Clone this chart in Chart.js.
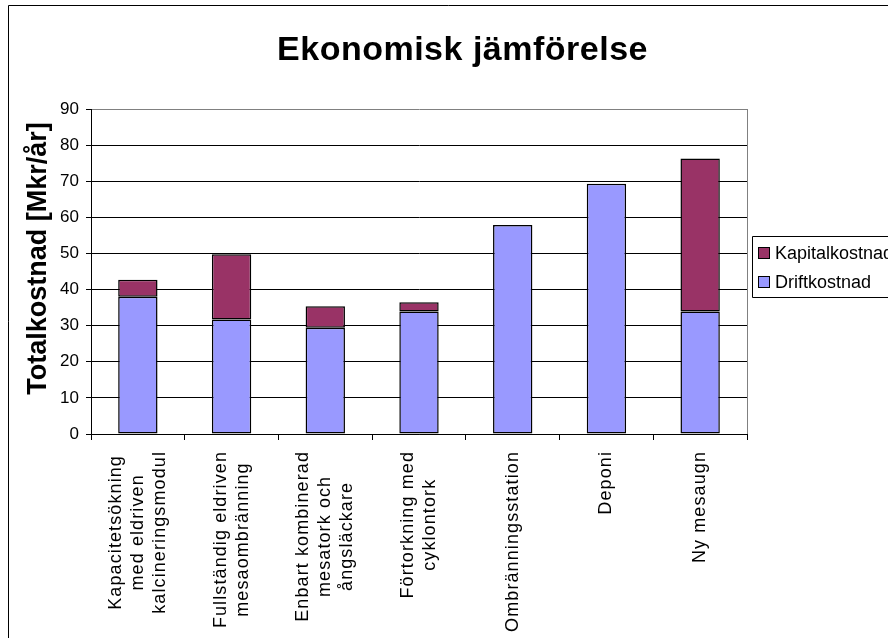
<!DOCTYPE html>
<html>
<head>
<meta charset="utf-8">
<script src="https://cdn.jsdelivr.net/npm/chart.js@4/dist/chart.umd.min.js"></script>
<style>
html,body{margin:0;padding:0;background:#fff;overflow:hidden}
#wrap{width:888px;height:638px;position:relative}
</style>
</head>
<body>
<div id="wrap"><canvas id="c" width="888" height="638"></canvas></div>
<script>
// ---- data ----
const categories = [
  ["Kapacitetsökning", "med eldriven", "kalcineringsmodul"],
  ["Fullständig eldriven", "mesaombränning"],
  ["Enbart kombinerad", "mesatork och", "ångsläckare"],
  ["Förtorkning med", "cyklontork"],
  ["Ombränningsstation"],
  ["Deponi"],
  ["Ny mesaugn"]
];
const driftkostnad   = [38.0, 31.7, 29.4, 33.9, 57.9, 69.3, 33.9];
const kapitalkostnad = [4.7, 18.1, 6.0, 2.6, 0, 0, 42.4];
const yTicks = [0, 10, 20, 30, 40, 50, 60, 70, 80, 90];
const chartTitle = "Ekonomisk jämförelse";
const yAxisTitle = "Totalkostnad [Mkr/år]";
const seriesNames = ["Driftkostnad", "Kapitalkostnad"];
const seriesColors = ["#9999FF", "#993366"];

const FONT = '"Liberation Sans", Arial, sans-serif';

const decor = {
  id: 'decor',
  beforeDraw(chart) {
    const ctx = chart.ctx;
    ctx.save();
    ctx.fillStyle = '#fff';
    ctx.fillRect(0, 0, chart.width, chart.height);
    ctx.strokeStyle = '#000';
    ctx.lineWidth = 1;
    ctx.beginPath();
    ctx.moveTo(8.5, chart.height);
    ctx.lineTo(8.5, 5.5);
    ctx.lineTo(chart.width, 5.5);
    ctx.stroke();
    ctx.restore();
  },
  afterDraw(chart) {
    const ctx = chart.ctx;
    const area = chart.chartArea;
    const xs = chart.scales.x;
    ctx.save();
    // right plot border (grey)
    ctx.strokeStyle = '#808080';
    ctx.lineWidth = 1;
    ctx.beginPath();
    ctx.moveTo(area.right + 0.5, area.top);
    ctx.lineTo(area.right + 0.5, area.bottom);
    ctx.stroke();

    // title
    ctx.fillStyle = '#000';
    ctx.font = 'bold 34px ' + FONT;
    try { ctx.letterSpacing = '0.5px'; } catch (e) {}
    ctx.textAlign = 'center';
    ctx.textBaseline = 'alphabetic';
    ctx.fillText(chartTitle, 462.5, 60);

    // y axis title
    try { ctx.letterSpacing = '0px'; } catch (e) {}
    ctx.save();
    ctx.font = 'bold 27px ' + FONT;
    ctx.translate(38.5, 258.5);
    ctx.rotate(-Math.PI / 2);
    ctx.textAlign = 'center';
    ctx.textBaseline = 'middle';
    ctx.fillText(yAxisTitle, 0, 0);
    ctx.restore();

    // x category labels (rotated, lines centred)
    ctx.font = '18px ' + FONT;
    try { ctx.letterSpacing = '1.1px'; } catch (e) {}
    const lh = 22;
    const topY = 451;
    chart.data.labels.forEach((lab, i) => {
      const lines = Array.isArray(lab) ? lab : [lab];
      const W = Math.max(...lines.map(l => ctx.measureText(l).width));
      const cx = xs.getPixelForValue(i);
      const n = lines.length;
      lines.forEach((ln, j) => {
        ctx.save();
        ctx.translate(cx + (j - (n - 1) / 2) * lh, topY + W / 2);
        ctx.rotate(-Math.PI / 2);
        ctx.textAlign = 'center';
        ctx.textBaseline = 'middle';
        ctx.fillText(ln, 0, 0);
        ctx.restore();
      });
    });

    // legend
    try { ctx.letterSpacing = '0px'; } catch (e) {}
    ctx.fillStyle = '#fff';
    ctx.fillRect(752, 236, 200, 62);
    ctx.strokeStyle = '#000';
    ctx.lineWidth = 1;
    ctx.beginPath();
    ctx.moveTo(chart.width, 236.5);
    ctx.lineTo(752.5, 236.5);
    ctx.lineTo(752.5, 297.5);
    ctx.lineTo(chart.width, 297.5);
    ctx.stroke();
    const ds = chart.data.datasets.slice().reverse();
    ctx.font = '18px ' + FONT;
    ctx.textAlign = 'left';
    ctx.textBaseline = 'middle';
    ds.forEach((d, k) => {
      const cy = 253 + k * 29;
      ctx.fillStyle = d.backgroundColor;
      ctx.fillRect(758, cy - 6, 12, 12);
      ctx.strokeStyle = '#000';
      ctx.strokeRect(758.5, cy - 5.5, 11, 11);
      ctx.fillStyle = '#000';
      ctx.fillText(d.label, 775, cy + 1);
    });
    ctx.restore();
  }
};

new Chart(document.getElementById('c'), {
  type: 'bar',
  data: {
    labels: categories,
    datasets: [
      { label: seriesNames[0], data: driftkostnad, backgroundColor: seriesColors[0],
        borderColor: '#000', borderWidth: 1.5, borderSkipped: false, inflateAmount: 0 },
      { label: seriesNames[1], data: kapitalkostnad, backgroundColor: seriesColors[1],
        borderColor: '#000', borderWidth: 1.5, borderSkipped: false, inflateAmount: 0 }
    ]
  },
  options: {
    responsive: false,
    devicePixelRatio: 1,
    animation: false,
    layout: { padding: { top: 109, right: 141, bottom: 0, left: 0 } },
    datasets: { bar: { categoryPercentage: 1, barPercentage: 0.42 } },
    plugins: { legend: { display: false }, title: { display: false }, tooltip: { enabled: false } },
    scales: {
      x: {
        stacked: true,
        grid: { display: true, drawOnChartArea: false, drawTicks: true, tickLength: 6, color: '#000', offset: true },
        border: { display: true, color: '#000', width: 1 },
        ticks: { display: false },
        afterFit(s) { s.height = 204; }
      },
      y: {
        stacked: true,
        min: 0, max: 90,
        afterBuildTicks(s) { s.ticks = yTicks.map(v => ({ value: v })); },
        grid: {
          color: (c) => (c.tick && c.tick.value === 90) ? '#808080' : '#000',
          tickColor: '#000', tickLength: 5, drawTicks: true
        },
        border: { display: true, color: '#000', width: 1 },
        ticks: { color: '#000', font: { family: FONT, size: 17 }, padding: 7 },
        afterFit(s) { s.width = 91; }
      }
    }
  },
  plugins: [decor]
});
</script>
</body>
</html>
